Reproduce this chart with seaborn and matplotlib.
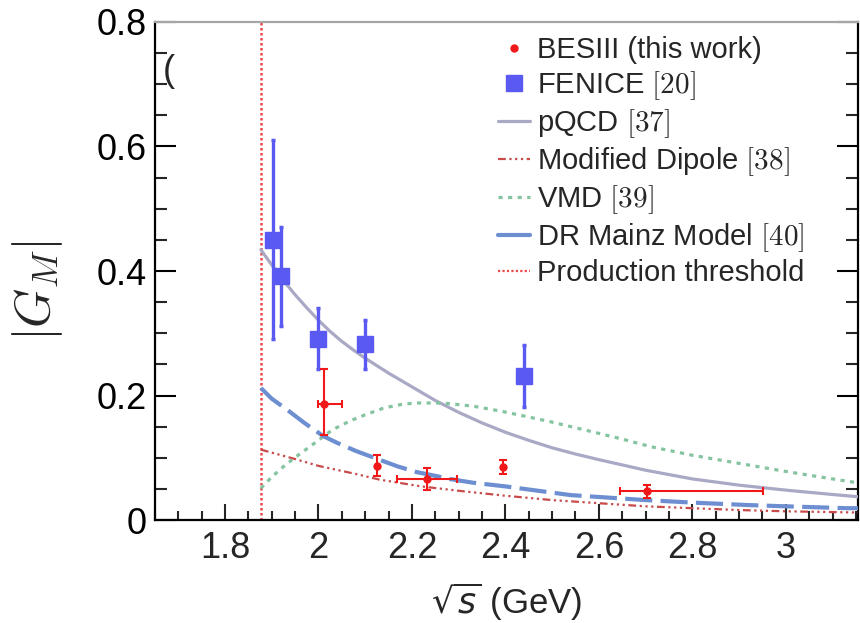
import matplotlib
matplotlib.use("Agg")
import matplotlib.pyplot as plt
from matplotlib.lines import Line2D
from matplotlib.font_manager import FontProperties
from matplotlib.ticker import MultipleLocator
import seaborn as sns

# ---------------- data ----------------
threshold = 1.8766

bes_x = [2.013, 2.126, 2.232, 2.394, 2.702]
bes_y = [0.187, 0.087, 0.066, 0.085, 0.046]
bes_ylo = [0.050, 0.016, 0.018, 0.011, 0.011]
bes_yhi = [0.056, 0.018, 0.017, 0.012, 0.010]
bes_xlo = [0.014, 0.0, 0.064, 0.0, 0.057]
bes_xhi = [0.037, 0.0, 0.065, 0.0, 0.249]

fen_x = [1.903, 1.919, 2.000, 2.100, 2.439]
fen_y = [0.450, 0.392, 0.290, 0.282, 0.231]
fen_ylo = [0.159, 0.080, 0.048, 0.039, 0.050]
fen_yhi = [0.161, 0.079, 0.050, 0.039, 0.050]

pqcd_x = [1.877, 1.90, 1.925, 1.95, 1.975, 2.00, 2.025, 2.05, 2.075, 2.10, 2.15, 2.20, 2.25,
          2.30, 2.35, 2.40, 2.45, 2.50, 2.55, 2.60, 2.70, 2.80, 2.90, 3.00, 3.10, 3.16]
pqcd_y = [0.434, 0.410, 0.385, 0.362, 0.341, 0.321, 0.303, 0.287, 0.273, 0.260, 0.236, 0.214,
          0.192, 0.173, 0.156, 0.141, 0.128, 0.116, 0.106, 0.097, 0.080, 0.066, 0.056, 0.048,
          0.041, 0.037]

dip_x = [1.877, 1.95, 2.00, 2.08, 2.13, 2.22, 2.30, 2.40, 2.50, 2.60, 2.70, 2.80, 2.90, 3.00, 3.16]
dip_y = [0.113, 0.098, 0.087, 0.074, 0.065, 0.054, 0.047, 0.039, 0.032, 0.027, 0.022, 0.019, 0.016, 0.014, 0.012]

vmd_x = [1.877, 1.90, 1.93, 1.96, 2.00, 2.03, 2.07, 2.10, 2.14, 2.18, 2.21, 2.25, 2.28, 2.33,
         2.39, 2.44, 2.49, 2.54, 2.59, 2.65, 2.71, 2.80, 2.90, 3.00, 3.10, 3.16]
vmd_y = [0.051, 0.069, 0.089, 0.106, 0.128, 0.145, 0.160, 0.169, 0.180, 0.186, 0.188, 0.188,
         0.187, 0.183, 0.175, 0.167, 0.159, 0.150, 0.141, 0.130, 0.118, 0.104, 0.091, 0.078, 0.066, 0.059]

dr_x = [1.877, 1.90, 1.935, 1.97, 2.01, 2.04, 2.08, 2.13, 2.17, 2.21, 2.25, 2.28, 2.33, 2.40,
        2.47, 2.54, 2.62, 2.70, 2.80, 2.92, 3.00, 3.13, 3.16]
dr_y = [0.212, 0.195, 0.176, 0.156, 0.135, 0.124, 0.111, 0.097, 0.086, 0.077, 0.071, 0.066,
        0.060, 0.054, 0.047, 0.040, 0.036, 0.032, 0.028, 0.024, 0.022, 0.019, 0.019]

legend_labels = ["BESIII (this work)", r"FENICE $[20]$", r"pQCD $[37]$",
                 r"Modified Dipole $[38]$", r"VMD $[39]$",
                 r"DR Mainz Model $[40]$", "Production threshold"]

# ---------------- styling ----------------
sns.set_style("ticks")
plt.rcParams["font.family"] = ["Liberation Sans", "DejaVu Sans"]

c_red = "#f01818"
c_blue = "#5a5af2"
c_pqcd = "#a9a9c6"
c_dip = "#c84a4a"
c_vmd = "#84c4a0"
c_dr = "#6d8fd2"
c_thr = "#ec4a4a"

ls_dip = (0, (3.5, 1.6, 1, 1.6, 1, 1.6, 1, 1.6))
ls_vmd = (0, (1.3, 1.7))
ls_dr = (0, (6.5, 2.0))
ls_thr = (0, (1, 1))

fig = plt.figure(figsize=(8.6, 6.23), dpi=100)
ax = fig.add_axes([0.180, 0.1653, 0.818, 0.7994])

# curves
sns.lineplot(x=pqcd_x, y=pqcd_y, ax=ax, color=c_pqcd, linewidth=2.3, zorder=3)
sns.lineplot(x=dip_x, y=dip_y, ax=ax, color=c_dip, linewidth=1.6, linestyle=ls_dip, zorder=3)
sns.lineplot(x=vmd_x, y=vmd_y, ax=ax, color=c_vmd, linewidth=2.3, linestyle=ls_vmd, zorder=3)
sns.lineplot(x=dr_x, y=dr_y, ax=ax, color=c_dr, linewidth=3.0, linestyle=ls_dr, zorder=3)
ax.axvline(threshold, color=c_thr, linewidth=1.8, linestyle=ls_thr, zorder=2)

# data points
ax.errorbar(fen_x, fen_y, yerr=[fen_ylo, fen_yhi], fmt="s", color=c_blue,
            markersize=11.5, elinewidth=2.4, capsize=1.5, capthick=2.5,
            ecolor=c_blue, zorder=4)
ax.errorbar(bes_x, bes_y, yerr=[bes_ylo, bes_yhi], xerr=[bes_xlo, bes_xhi],
            fmt="o", color=c_red, markersize=5, elinewidth=1.5, capsize=3,
            capthick=1.5, zorder=5)

# axes
ax.set_xlim(1.65, 3.155)
ax.set_ylim(0, 0.8)
ax.xaxis.set_minor_locator(MultipleLocator(0.05))
ax.yaxis.set_minor_locator(MultipleLocator(0.05))
ax.set_xticks([1.8, 2.0, 2.2, 2.4, 2.6, 2.8, 3.0])
ax.set_xticklabels(["1.8", "2", "2.2", "2.4", "2.6", "2.8", "3"])
ax.set_yticks([0, 0.2, 0.4, 0.6, 0.8])
ax.set_yticklabels(["0", "0.2", "0.4", "0.6", "0.8"])

ax.tick_params(axis="y", which="major", direction="in", length=15, width=1.5,
               labelsize=26, pad=6, left=True, right=True, colors="black")
ax.tick_params(axis="y", which="minor", direction="in", length=8.5, width=1.5,
               left=True, right=True)
ax.tick_params(axis="x", which="major", direction="in", length=11.5, width=1.5,
               labelsize=26, pad=8, top=False)
ax.tick_params(axis="x", which="minor", direction="in", length=6.5, width=1.5,
               top=False)

for s in ["left", "bottom", "right"]:
    ax.spines[s].set_visible(True)
    ax.spines[s].set_linewidth(1.6)
    ax.spines[s].set_color("black")
ax.spines["top"].set_visible(True)
ax.spines["top"].set_color("#a6a6a6")
ax.spines["top"].set_linewidth(1.6)

ax.set_xlabel(r"$\sqrt{s}$ (GeV)", fontsize=25)
ax.xaxis.set_label_coords(0.5, -0.122)
ax.set_ylabel(r"$|G_M|$", fontsize=36, math_fontfamily="cm")
ax.yaxis.set_label_coords(-0.128, 0.46)

# cropped panel label fragment
ax.text(1.666, 0.72, "(", fontsize=26, va="center", ha="left", zorder=6)

# legend
handles = [
    Line2D([], [], marker="o", color=c_red, linestyle="none", markersize=5),
    Line2D([], [], marker="s", color=c_blue, linestyle="none", markersize=11),
    Line2D([], [], color=c_pqcd, linewidth=2.3),
    Line2D([], [], color=c_dip, linewidth=1.6, linestyle=ls_dip),
    Line2D([], [], color=c_vmd, linewidth=2.3, linestyle=ls_vmd),
    Line2D([], [], color=c_dr, linewidth=3.0),
    Line2D([], [], color=c_thr, linewidth=1.6, linestyle=ls_thr),
]
prop = FontProperties(family=["Liberation Sans", "DejaVu Sans"], size=21, math_fontfamily="cm")
ax.legend(handles, legend_labels, loc="upper left", bbox_to_anchor=(0.488, 0.972),
          frameon=False, prop=prop, handlelength=1.1, handletextpad=0.22,
          labelspacing=0.18, borderpad=0, borderaxespad=0)

fig.savefig("out.png", dpi=100)
